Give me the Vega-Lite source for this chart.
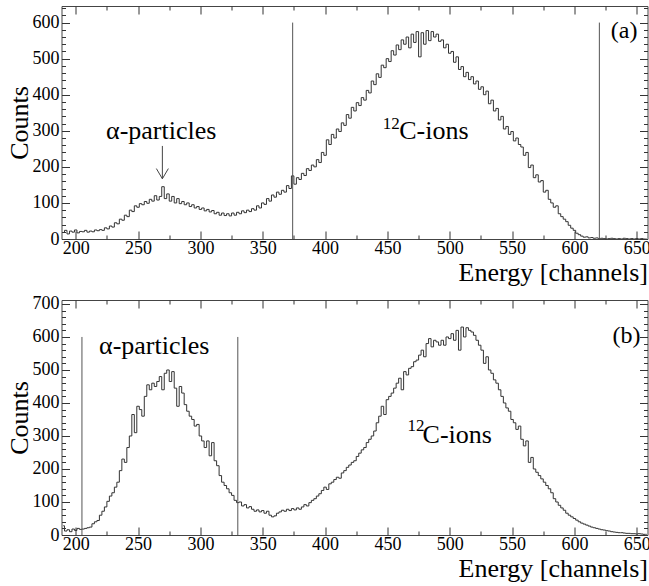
{
  "$schema": "https://vega.github.io/schema/vega-lite/v6.json",
  "background": "white",
  "padding": {"left": 5.5, "top": 5, "right": 0, "bottom": 0},
  "spacing": 61,
  "bounds": "flush",
  "config": {
    "font": "Liberation Serif, Times New Roman, serif",
    "view": {"stroke": "#444", "strokeWidth": 1},
    "axis": {
      "labelFont": "Liberation Serif, Times New Roman, serif",
      "labelFontSize": 18,
      "labelColor": "black",
      "titleFont": "Liberation Serif, Times New Roman, serif",
      "titleFontWeight": "normal",
      "titleColor": "black",
      "tickColor": "#333",
      "tickWidth": 1,
      "grid": false,
      "domain": false
    }
  },
  "datasets": {
    "h": [
      {"c":190,"a":18,"b":28},{"c":192,"a":24,"b":12},{"c":194,"a":14,"b":16},{"c":196,"a":22,"b":10},{"c":198,"a":19,"b":18},
      {"c":200,"a":25,"b":14},{"c":202,"a":17,"b":20},{"c":204,"a":21,"b":17},{"c":206,"a":20,"b":18},{"c":208,"a":24,"b":20},
      {"c":210,"a":19,"b":22},{"c":212,"a":22,"b":24},{"c":214,"a":20,"b":34},{"c":216,"a":25,"b":40},{"c":218,"a":23,"b":44},
      {"c":220,"a":26,"b":60},{"c":222,"a":24,"b":72},{"c":224,"a":31,"b":85},{"c":226,"a":28,"b":102},{"c":228,"a":36,"b":118},
      {"c":230,"a":33,"b":128},{"c":232,"a":45,"b":145},{"c":234,"a":42,"b":160},{"c":236,"a":55,"b":195},{"c":238,"a":52,"b":230},
      {"c":240,"a":66,"b":220},{"c":242,"a":62,"b":265},{"c":244,"a":80,"b":300},{"c":246,"a":76,"b":365},{"c":248,"a":92,"b":310},
      {"c":250,"a":88,"b":390},{"c":252,"a":98,"b":380},{"c":254,"a":95,"b":360},{"c":256,"a":104,"b":420},{"c":258,"a":99,"b":455},
      {"c":260,"a":110,"b":440},{"c":262,"a":105,"b":460},{"c":264,"a":120,"b":450},{"c":266,"a":108,"b":465},{"c":268,"a":118,"b":480},
      {"c":270,"a":145,"b":440},{"c":272,"a":112,"b":490},{"c":274,"a":125,"b":500},{"c":276,"a":105,"b":465},{"c":278,"a":118,"b":495},
      {"c":280,"a":100,"b":445},{"c":282,"a":112,"b":390},{"c":284,"a":98,"b":450},{"c":286,"a":104,"b":430},{"c":288,"a":95,"b":395},
      {"c":290,"a":100,"b":375},{"c":292,"a":90,"b":360},{"c":294,"a":95,"b":350},{"c":296,"a":86,"b":330},{"c":298,"a":90,"b":335},
      {"c":300,"a":82,"b":300},{"c":302,"a":86,"b":285},{"c":304,"a":78,"b":265},{"c":306,"a":82,"b":285},{"c":308,"a":75,"b":240},
      {"c":310,"a":79,"b":280},{"c":312,"a":70,"b":225},{"c":314,"a":74,"b":210},{"c":316,"a":66,"b":180},{"c":318,"a":72,"b":160},
      {"c":320,"a":65,"b":150},{"c":322,"a":70,"b":140},{"c":324,"a":64,"b":128},{"c":326,"a":72,"b":120},{"c":328,"a":66,"b":105},
      {"c":330,"a":74,"b":98},{"c":332,"a":70,"b":100},{"c":334,"a":78,"b":88},{"c":336,"a":73,"b":92},{"c":338,"a":80,"b":82},
      {"c":340,"a":76,"b":86},{"c":342,"a":84,"b":78},{"c":344,"a":80,"b":72},{"c":346,"a":92,"b":76},{"c":348,"a":86,"b":70},
      {"c":350,"a":100,"b":74},{"c":352,"a":96,"b":66},{"c":354,"a":112,"b":72},{"c":356,"a":105,"b":60},{"c":358,"a":122,"b":55},
      {"c":360,"a":116,"b":58},{"c":362,"a":130,"b":66},{"c":364,"a":124,"b":70},{"c":366,"a":135,"b":75},{"c":368,"a":130,"b":72},
      {"c":370,"a":148,"b":78},{"c":372,"a":140,"b":74},{"c":374,"a":175,"b":80},{"c":376,"a":152,"b":76},{"c":378,"a":170,"b":82},
      {"c":380,"a":165,"b":78},{"c":382,"a":182,"b":85},{"c":384,"a":176,"b":92},{"c":386,"a":195,"b":88},{"c":388,"a":190,"b":98},
      {"c":390,"a":205,"b":105},{"c":392,"a":200,"b":110},{"c":394,"a":220,"b":118},{"c":396,"a":212,"b":125},{"c":398,"a":240,"b":135},
      {"c":400,"a":232,"b":145},{"c":402,"a":275,"b":138},{"c":404,"a":262,"b":155},{"c":406,"a":290,"b":160},{"c":408,"a":280,"b":168},
      {"c":410,"a":305,"b":175},{"c":412,"a":298,"b":172},{"c":414,"a":322,"b":188},{"c":416,"a":315,"b":195},{"c":418,"a":345,"b":205},
      {"c":420,"a":335,"b":212},{"c":422,"a":365,"b":220},{"c":424,"a":355,"b":225},{"c":426,"a":378,"b":238},{"c":428,"a":370,"b":248},
      {"c":430,"a":392,"b":258},{"c":432,"a":385,"b":265},{"c":434,"a":412,"b":280},{"c":436,"a":405,"b":290},{"c":438,"a":438,"b":300},
      {"c":440,"a":428,"b":315},{"c":442,"a":458,"b":340},{"c":444,"a":448,"b":360},{"c":446,"a":482,"b":390},{"c":448,"a":475,"b":365},
      {"c":450,"a":500,"b":410},{"c":452,"a":492,"b":420},{"c":454,"a":522,"b":430},{"c":456,"a":510,"b":445},{"c":458,"a":538,"b":460},
      {"c":460,"a":525,"b":475},{"c":462,"a":552,"b":440},{"c":464,"a":540,"b":495},{"c":466,"a":560,"b":485},{"c":468,"a":530,"b":505},
      {"c":470,"a":568,"b":510},{"c":472,"a":545,"b":525},{"c":474,"a":575,"b":530},{"c":476,"a":505,"b":545},{"c":478,"a":572,"b":560},
      {"c":480,"a":540,"b":540},{"c":482,"a":578,"b":580},{"c":484,"a":550,"b":595},{"c":486,"a":575,"b":570},{"c":488,"a":560,"b":590},
      {"c":490,"a":568,"b":585},{"c":492,"a":548,"b":575},{"c":494,"a":552,"b":590},{"c":496,"a":530,"b":575},{"c":498,"a":540,"b":600},
      {"c":500,"a":515,"b":595},{"c":502,"a":520,"b":610},{"c":504,"a":490,"b":590},{"c":506,"a":505,"b":620},{"c":508,"a":470,"b":560},
      {"c":510,"a":478,"b":630},{"c":512,"a":450,"b":600},{"c":514,"a":462,"b":628},{"c":516,"a":442,"b":620},{"c":518,"a":450,"b":615},
      {"c":520,"a":430,"b":605},{"c":522,"a":438,"b":590},{"c":524,"a":415,"b":575},{"c":526,"a":422,"b":560},{"c":528,"a":400,"b":520},
      {"c":530,"a":410,"b":540},{"c":532,"a":375,"b":500},{"c":534,"a":385,"b":490},{"c":536,"a":355,"b":470},{"c":538,"a":362,"b":460},
      {"c":540,"a":330,"b":440},{"c":542,"a":340,"b":420},{"c":544,"a":305,"b":400},{"c":546,"a":312,"b":385},{"c":548,"a":290,"b":375},
      {"c":550,"a":298,"b":350},{"c":552,"a":272,"b":340},{"c":554,"a":280,"b":320},{"c":556,"a":262,"b":330},{"c":558,"a":255,"b":290},
      {"c":560,"a":232,"b":270},{"c":562,"a":240,"b":285},{"c":564,"a":198,"b":220},{"c":566,"a":205,"b":235},{"c":568,"a":170,"b":200},
      {"c":570,"a":178,"b":190},{"c":572,"a":158,"b":180},{"c":574,"a":162,"b":170},{"c":576,"a":130,"b":160},{"c":578,"a":135,"b":150},
      {"c":580,"a":110,"b":140},{"c":582,"a":100,"b":128},{"c":584,"a":88,"b":110},{"c":586,"a":92,"b":100},{"c":588,"a":70,"b":90},
      {"c":590,"a":62,"b":82},{"c":592,"a":55,"b":75},{"c":594,"a":48,"b":66},{"c":596,"a":38,"b":60},{"c":598,"a":30,"b":55},
      {"c":600,"a":24,"b":50},{"c":602,"a":16,"b":45},{"c":604,"a":12,"b":40},{"c":606,"a":8,"b":36},{"c":608,"a":5,"b":33},
      {"c":610,"a":6,"b":30},{"c":612,"a":3,"b":27},{"c":614,"a":4,"b":24},{"c":616,"a":2,"b":22},{"c":618,"a":3,"b":20},
      {"c":620,"a":1,"b":18},{"c":622,"a":2,"b":16},{"c":624,"a":1,"b":15},{"c":626,"a":0,"b":13},{"c":628,"a":1,"b":12},
      {"c":630,"a":2,"b":10},{"c":632,"a":1,"b":9},{"c":634,"a":0,"b":8},{"c":636,"a":1,"b":7},{"c":638,"a":0,"b":7},
      {"c":640,"a":2,"b":6},{"c":642,"a":1,"b":5},{"c":644,"a":0,"b":5},{"c":646,"a":1,"b":4},{"c":648,"a":0,"b":4},
      {"c":650,"a":1,"b":3},{"c":652,"a":0,"b":4},{"c":654,"a":1,"b":3},{"c":656,"a":0,"b":2},{"c":658,"a":0,"b":2}
    ],
    "cuts": [
      {"p":"a","c":374},{"p":"a","c":620},
      {"p":"b","c":205},{"p":"b","c":330}
    ],
    "big": [
      {"p":"a","c":224.3,"v":277,"t":"α-particles"},
      {"p":"a","c":459.5,"v":277,"t":"C-ions"},
      {"p":"b","c":218.7,"v":548,"t":"α-particles"},
      {"p":"b","c":478.2,"v":280,"t":"C-ions"}
    ],
    "sup": [
      {"p":"a","c":446.2,"v":305,"t":"12"},
      {"p":"b","c":466.2,"v":315,"t":"12"}
    ],
    "tag": [
      {"p":"a","c":629.2,"v":557,"t":"(a)"},
      {"p":"b","c":630.5,"v":583,"t":"(b)"}
    ],
    "arrow": [
      {"p":"a","c":269.5,"v1":258,"v2":167}
    ]
  },
  "vconcat": [
    {
      "width": 586,
      "height": 233,
      "resolve": {"axis": {"x": "independent", "y": "independent"}},
      "layer": [
        {
          "data": {"name": "h"},
          "mark": {"type": "line", "interpolate": "step", "color": "#333", "strokeWidth": 1, "clip": true},
          "encoding": {
            "x": {"field": "c", "type": "quantitative", "scale": {"domain": [188.6, 658.6], "nice": false, "zero": false},
              "axis": {"orient": "bottom", "values": [200,250,300,350,400,450,500,550,600,650], "tickSize": -8, "labelPadding": 8,
                "title": "Energy [channels]", "titleAnchor": "end", "titleFontSize": 26, "titlePadding": 2, "labelFlush": false, "labelOverlap": false}},
            "y": {"field": "a", "type": "quantitative", "scale": {"domain": [0, 646], "nice": false},
              "axis": {"orient": "left", "values": [0,100,200,300,400,500,600], "tickSize": -8, "labelPadding": 10.5,
                "title": "Counts", "titleFontSize": 26, "titlePadding": 0}}
          }
        },
        {
          "data": {"name": "cuts"},
          "transform": [{"filter": "datum.p == 'a'"}],
          "mark": {"type": "rule", "color": "#555", "strokeWidth": 1},
          "encoding": {
            "x": {"field": "c", "type": "quantitative", "scale": {"domain": [188.6, 658.6], "nice": false, "zero": false},
              "axis": {"orient": "bottom", "values": [225,275,325,375,425,475,525,575,625], "tickSize": -4, "labels": false, "title": null}},
            "y": {"datum": 0, "type": "quantitative", "scale": {"domain": [0, 646], "nice": false},
              "axis": {"orient": "left", "values": [20,40,60,80,120,140,160,180,220,240,260,280,320,340,360,380,420,440,460,480,520,540,560,580,620,640], "tickSize": -4, "labels": false, "title": null}},
            "y2": {"datum": 600}
          }
        },
        {
          "data": {"name": "big"},
          "transform": [{"filter": "datum.p == 'a'"}],
          "mark": {"type": "text", "font": "Liberation Serif, Times New Roman, serif", "fontSize": 26, "align": "left", "baseline": "alphabetic", "color": "black"},
          "encoding": {
            "x": {"field": "c", "type": "quantitative", "scale": {"domain": [188.6, 658.6], "nice": false, "zero": false},
              "axis": {"orient": "top", "values": [200,250,300,350,400,450,500,550,600,650], "tickSize": -8, "labels": false, "title": null}},
            "y": {"field": "v", "type": "quantitative", "scale": {"domain": [0, 646], "nice": false},
              "axis": {"orient": "right", "values": [0,100,200,300,400,500,600], "tickSize": -8, "labels": false, "title": null}},
            "text": {"field": "t"}
          }
        },
        {
          "data": {"name": "sup"},
          "transform": [{"filter": "datum.p == 'a'"}],
          "mark": {"type": "text", "font": "Liberation Serif, Times New Roman, serif", "fontSize": 17, "align": "left", "baseline": "alphabetic", "color": "black"},
          "encoding": {
            "x": {"field": "c", "type": "quantitative", "scale": {"domain": [188.6, 658.6], "nice": false, "zero": false},
              "axis": {"orient": "top", "values": [225,275,325,375,425,475,525,575,625], "tickSize": -4, "labels": false, "title": null}},
            "y": {"field": "v", "type": "quantitative", "scale": {"domain": [0, 646], "nice": false},
              "axis": {"orient": "right", "values": [20,40,60,80,120,140,160,180,220,240,260,280,320,340,360,380,420,440,460,480,520,540,560,580,620,640], "tickSize": -4, "labels": false, "title": null}},
            "text": {"field": "t"}
          }
        },
        {
          "data": {"name": "tag"},
          "transform": [{"filter": "datum.p == 'a'"}],
          "mark": {"type": "text", "font": "Liberation Serif, Times New Roman, serif", "fontSize": 24, "align": "left", "baseline": "alphabetic", "color": "black"},
          "encoding": {
            "x": {"field": "c", "type": "quantitative", "scale": {"domain": [188.6, 658.6], "nice": false, "zero": false}, "axis": null},
            "y": {"field": "v", "type": "quantitative", "scale": {"domain": [0, 646], "nice": false}, "axis": null},
            "text": {"field": "t"}
          }
        },
        {
          "data": {"name": "arrow"},
          "mark": {"type": "rule", "color": "#444", "strokeWidth": 1},
          "encoding": {
            "x": {"field": "c", "type": "quantitative", "scale": {"domain": [188.6, 658.6], "nice": false, "zero": false}, "axis": null},
            "y": {"field": "v1", "type": "quantitative", "scale": {"domain": [0, 646], "nice": false}, "axis": null},
            "y2": {"field": "v2"}
          }
        },
        {
          "data": {"name": "arrow"},
          "mark": {"type": "point", "shape": "M-1,-1.7L0,0L1,-1.7", "filled": false, "size": 144, "color": "#444", "strokeWidth": 1, "opacity": 1},
          "encoding": {
            "x": {"field": "c", "type": "quantitative", "scale": {"domain": [188.6, 658.6], "nice": false, "zero": false}, "axis": null},
            "y": {"field": "v2", "type": "quantitative", "scale": {"domain": [0, 646], "nice": false}, "axis": null}
          }
        }
      ]
    },
    {
      "width": 586,
      "height": 235,
      "resolve": {"axis": {"x": "independent", "y": "independent"}},
      "layer": [
        {
          "data": {"name": "h"},
          "mark": {"type": "line", "interpolate": "step", "color": "#333", "strokeWidth": 1, "clip": true},
          "encoding": {
            "x": {"field": "c", "type": "quantitative", "scale": {"domain": [188.6, 658.6], "nice": false, "zero": false},
              "axis": {"orient": "bottom", "values": [200,250,300,350,400,450,500,550,600,650], "tickSize": -8, "labelPadding": 8,
                "title": "Energy [channels]", "titleAnchor": "end", "titleFontSize": 26, "titlePadding": 2, "labelFlush": false, "labelOverlap": false}},
            "y": {"field": "b", "type": "quantitative", "scale": {"domain": [0, 712], "nice": false},
              "axis": {"orient": "left", "values": [0,100,200,300,400,500,600,700], "tickSize": -8, "labelPadding": 10.5,
                "title": "Counts", "titleFontSize": 26, "titlePadding": 0}}
          }
        },
        {
          "data": {"name": "cuts"},
          "transform": [{"filter": "datum.p == 'b'"}],
          "mark": {"type": "rule", "color": "#555", "strokeWidth": 1},
          "encoding": {
            "x": {"field": "c", "type": "quantitative", "scale": {"domain": [188.6, 658.6], "nice": false, "zero": false},
              "axis": {"orient": "bottom", "values": [225,275,325,375,425,475,525,575,625], "tickSize": -4, "labels": false, "title": null}},
            "y": {"datum": 0, "type": "quantitative", "scale": {"domain": [0, 712], "nice": false},
              "axis": {"orient": "left", "values": [20,40,60,80,120,140,160,180,220,240,260,280,320,340,360,380,420,440,460,480,520,540,560,580,620,640,660,680], "tickSize": -4, "labels": false, "title": null}},
            "y2": {"datum": 600}
          }
        },
        {
          "data": {"name": "big"},
          "transform": [{"filter": "datum.p == 'b'"}],
          "mark": {"type": "text", "font": "Liberation Serif, Times New Roman, serif", "fontSize": 26, "align": "left", "baseline": "alphabetic", "color": "black"},
          "encoding": {
            "x": {"field": "c", "type": "quantitative", "scale": {"domain": [188.6, 658.6], "nice": false, "zero": false},
              "axis": {"orient": "top", "values": [200,250,300,350,400,450,500,550,600,650], "tickSize": -8, "labels": false, "title": null}},
            "y": {"field": "v", "type": "quantitative", "scale": {"domain": [0, 712], "nice": false},
              "axis": {"orient": "right", "values": [0,100,200,300,400,500,600,700], "tickSize": -8, "labels": false, "title": null}},
            "text": {"field": "t"}
          }
        },
        {
          "data": {"name": "sup"},
          "transform": [{"filter": "datum.p == 'b'"}],
          "mark": {"type": "text", "font": "Liberation Serif, Times New Roman, serif", "fontSize": 17, "align": "left", "baseline": "alphabetic", "color": "black"},
          "encoding": {
            "x": {"field": "c", "type": "quantitative", "scale": {"domain": [188.6, 658.6], "nice": false, "zero": false},
              "axis": {"orient": "top", "values": [225,275,325,375,425,475,525,575,625], "tickSize": -4, "labels": false, "title": null}},
            "y": {"field": "v", "type": "quantitative", "scale": {"domain": [0, 712], "nice": false},
              "axis": {"orient": "right", "values": [20,40,60,80,120,140,160,180,220,240,260,280,320,340,360,380,420,440,460,480,520,540,560,580,620,640,660,680], "tickSize": -4, "labels": false, "title": null}},
            "text": {"field": "t"}
          }
        },
        {
          "data": {"name": "tag"},
          "transform": [{"filter": "datum.p == 'b'"}],
          "mark": {"type": "text", "font": "Liberation Serif, Times New Roman, serif", "fontSize": 24, "align": "left", "baseline": "alphabetic", "color": "black"},
          "encoding": {
            "x": {"field": "c", "type": "quantitative", "scale": {"domain": [188.6, 658.6], "nice": false, "zero": false}, "axis": null},
            "y": {"field": "v", "type": "quantitative", "scale": {"domain": [0, 712], "nice": false}, "axis": null},
            "text": {"field": "t"}
          }
        }
      ]
    }
  ]
}
